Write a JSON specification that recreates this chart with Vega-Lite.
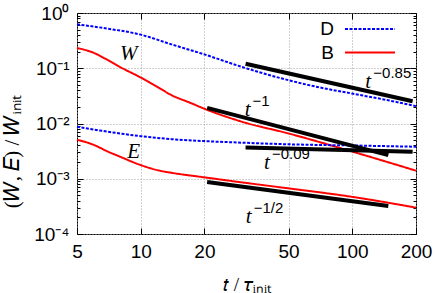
{
  "$schema": "https://vega.github.io/schema/vega-lite/v6.json",
  "autosize": "none",
  "width": 339,
  "height": 221,
  "padding": {"left": 77, "top": 13, "right": 20, "bottom": 59},
  "background": "white",
  "config": {
    "view": {"stroke": "black", "strokeWidth": 1},
    "font": "Liberation Sans",
    "axis": {"labelFont": "Liberation Sans", "labelFontSize": 19, "labelColor": "black", "titleFont": "Liberation Serif", "titleFontSize": 19, "titleFontWeight": "normal", "titleColor": "black", "domain": false, "tickColor": "black", "gridColor": "#a0a0a0", "gridDash": [1, 2], "gridWidth": 1}
  },
  "datasets": {
    "curves": [
      {"q": "W", "model": "D", "t": 5, "v": 0.624}, {"q": "W", "model": "D", "t": 7, "v": 0.52}, {"q": "W", "model": "D", "t": 10, "v": 0.406}, {"q": "W", "model": "D", "t": 14, "v": 0.27}, {"q": "W", "model": "D", "t": 20, "v": 0.178}, {"q": "W", "model": "D", "t": 30, "v": 0.106}, {"q": "W", "model": "D", "t": 50, "v": 0.0607}, {"q": "W", "model": "D", "t": 70, "v": 0.045}, {"q": "W", "model": "D", "t": 100, "v": 0.0348}, {"q": "W", "model": "D", "t": 150, "v": 0.026}, {"q": "W", "model": "D", "t": 200, "v": 0.0206},
      {"q": "W", "model": "B", "t": 5, "v": 0.233}, {"q": "W", "model": "B", "t": 6, "v": 0.19}, {"q": "W", "model": "B", "t": 7, "v": 0.14}, {"q": "W", "model": "B", "t": 8, "v": 0.105}, {"q": "W", "model": "B", "t": 10, "v": 0.068}, {"q": "W", "model": "B", "t": 12, "v": 0.046}, {"q": "W", "model": "B", "t": 14, "v": 0.0325}, {"q": "W", "model": "B", "t": 17, "v": 0.024}, {"q": "W", "model": "B", "t": 20, "v": 0.0185}, {"q": "W", "model": "B", "t": 30, "v": 0.0108}, {"q": "W", "model": "B", "t": 50, "v": 0.0066}, {"q": "W", "model": "B", "t": 100, "v": 0.0031}, {"q": "W", "model": "B", "t": 200, "v": 0.0014},
      {"q": "E", "model": "D", "t": 5, "v": 0.0087}, {"q": "E", "model": "D", "t": 7, "v": 0.0071}, {"q": "E", "model": "D", "t": 10, "v": 0.0059}, {"q": "E", "model": "D", "t": 14, "v": 0.0052}, {"q": "E", "model": "D", "t": 20, "v": 0.0048}, {"q": "E", "model": "D", "t": 30, "v": 0.0045}, {"q": "E", "model": "D", "t": 50, "v": 0.0042}, {"q": "E", "model": "D", "t": 100, "v": 0.004}, {"q": "E", "model": "D", "t": 200, "v": 0.0038},
      {"q": "E", "model": "B", "t": 5, "v": 0.0051}, {"q": "E", "model": "B", "t": 6, "v": 0.0041}, {"q": "E", "model": "B", "t": 7, "v": 0.0031}, {"q": "E", "model": "B", "t": 8, "v": 0.0025}, {"q": "E", "model": "B", "t": 10, "v": 0.00177}, {"q": "E", "model": "B", "t": 12, "v": 0.00143}, {"q": "E", "model": "B", "t": 14, "v": 0.00128}, {"q": "E", "model": "B", "t": 17, "v": 0.00115}, {"q": "E", "model": "B", "t": 20, "v": 0.00106}, {"q": "E", "model": "B", "t": 30, "v": 0.00086}, {"q": "E", "model": "B", "t": 50, "v": 0.00067}, {"q": "E", "model": "B", "t": 100, "v": 0.00047}, {"q": "E", "model": "B", "t": 200, "v": 0.0003}
    ],
    "fits": [
      {"fit": "a", "t": 31.3, "v": 0.121}, {"fit": "a", "t": 192.8, "v": 0.0253},
      {"fit": "b", "t": 20.6, "v": 0.0192}, {"fit": "b", "t": 148, "v": 0.00268},
      {"fit": "c", "t": 31.3, "v": 0.00368}, {"fit": "c", "t": 192.8, "v": 0.00308},
      {"fit": "d", "t": 20.6, "v": 0.00087}, {"fit": "d", "t": 148, "v": 0.00032}
    ],
    "labels": [
      {"t": 119, "v": 0.0566, "base": "t", "exp": "−0.85"},
      {"t": 32, "v": 0.0174, "base": "t", "exp": "−1"},
      {"t": 39.5, "v": 0.00189, "base": "t", "exp": "−0.09"},
      {"t": 32.4, "v": 0.000206, "base": "t", "exp": "−1/2"},
      {"t": 8.77, "v": 0.184, "base": "W", "exp": ""},
      {"t": 9.26, "v": 0.003, "base": "E", "exp": ""}
    ]
  },
  "resolve": {"axis": {"x": "independent", "y": "independent"}},
  "layer": [
    {
      "data": {"name": "curves"},
      "mark": {"type": "line", "strokeWidth": 2, "interpolate": "monotone"},
      "encoding": {
        "x": {"field": "t", "type": "quantitative", "scale": {"type": "log", "domain": [5, 200], "nice": false},
          "axis": {"orient": "bottom", "values": [5, 10, 20, 50, 100, 200], "title": "𝑡 / 𝜏ᵢₙᵢₜ", "titleY": 56, "titleBaseline": "alphabetic", "tickSize": -6, "labelPadding": 14, "grid": true, "labelFlush": false}},
        "y": {"field": "v", "type": "quantitative", "scale": {"type": "log", "domain": [0.0001, 1], "nice": false},
          "axis": {"orient": "left", "values": [1, 0.9, 0.8, 0.7, 0.6, 0.5, 0.4, 0.3, 0.2, 0.1, 0.09, 0.08, 0.07, 0.06, 0.05, 0.04, 0.03, 0.02, 0.01, 0.009, 0.008, 0.007, 0.006, 0.005, 0.004, 0.003, 0.002, 0.001, 0.0009, 0.0008, 0.0007, 0.0006, 0.0005, 0.0004, 0.0003, 0.0002, 0.0001],
            "labelExpr": "datum.value==1?'10⁰':datum.value==0.1?'10⁻¹':datum.value==0.01?'10⁻²':datum.value==0.001?'10⁻³':datum.value==0.0001?'10⁻⁴':''",
            "title": "(𝑊, 𝐸) / 𝑊ᵢₙᵢₜ", "titleFontSize": 21, "titleX": -59, "titleY": 138, "titleBaseline": "alphabetic", "titleAngle": -90,
            "tickSize": {"condition": {"test": "indexof([1,0.1,0.01,0.001,0.0001], datum.value) >= 0", "value": -6}, "value": -3},
            "labelPadding": 14, "labelFlush": false, "labelOverlap": false,
            "grid": true,
            "gridOpacity": {"condition": {"test": "indexof([1,0.1,0.01,0.001,0.0001], datum.value) >= 0", "value": 1}, "value": 0}}},
        "color": {"field": "model", "type": "nominal", "scale": {"domain": ["D", "B"], "range": ["#0000ff", "#ff0000"]},
          "legend": {"orient": "none", "legendX": 282, "legendY": 5, "title": null, "symbolType": "M-2.5,0H2.5", "symbolSize": 400, "symbolStrokeWidth": 2, "symbolFillColor": "transparent", "labelFontSize": 19, "labelFont": "Liberation Sans", "labelColor": "black", "labelAlign": "right", "labelOffset": -47, "rowPadding": 2.5}},
        "strokeDash": {"field": "model", "type": "nominal", "scale": {"domain": ["D", "B"], "range": [[3, 1.5], [1, 0]]}, "legend": null},
        "detail": {"field": "q"}
      }
    },
    {
      "data": {"name": "fits"},
      "mark": {"type": "line", "strokeWidth": 4, "color": "black"},
      "encoding": {
        "x": {"field": "t", "type": "quantitative", "axis": {"orient": "top", "values": [5, 10, 20, 50, 100, 200], "labels": false, "title": null, "tickSize": -6, "grid": false}},
        "y": {"field": "v", "type": "quantitative",
          "axis": {"orient": "right", "values": [1, 0.9, 0.8, 0.7, 0.6, 0.5, 0.4, 0.3, 0.2, 0.1, 0.09, 0.08, 0.07, 0.06, 0.05, 0.04, 0.03, 0.02, 0.01, 0.009, 0.008, 0.007, 0.006, 0.005, 0.004, 0.003, 0.002, 0.001, 0.0009, 0.0008, 0.0007, 0.0006, 0.0005, 0.0004, 0.0003, 0.0002, 0.0001],
            "labels": false, "title": null, "grid": false,
            "tickSize": {"condition": {"test": "indexof([1,0.1,0.01,0.001,0.0001], datum.value) >= 0", "value": -6}, "value": -3}}},
        "detail": {"field": "fit"}
      }
    },
    {
      "data": {"name": "labels"},
      "mark": {"type": "text", "font": "Liberation Serif", "fontStyle": "italic", "fontSize": 21, "align": "center", "baseline": "middle", "color": "black"},
      "encoding": {
        "x": {"field": "t", "type": "quantitative", "axis": null},
        "y": {"field": "v", "type": "quantitative", "axis": null},
        "text": {"field": "base"}
      }
    },
    {
      "data": {"name": "labels"},
      "mark": {"type": "text", "font": "Liberation Sans", "fontSize": 15, "align": "left", "baseline": "middle", "dx": 5, "dy": -9, "color": "black"},
      "encoding": {
        "x": {"field": "t", "type": "quantitative", "axis": null},
        "y": {"field": "v", "type": "quantitative", "axis": null},
        "text": {"field": "exp"}
      }
    }
  ]
}
